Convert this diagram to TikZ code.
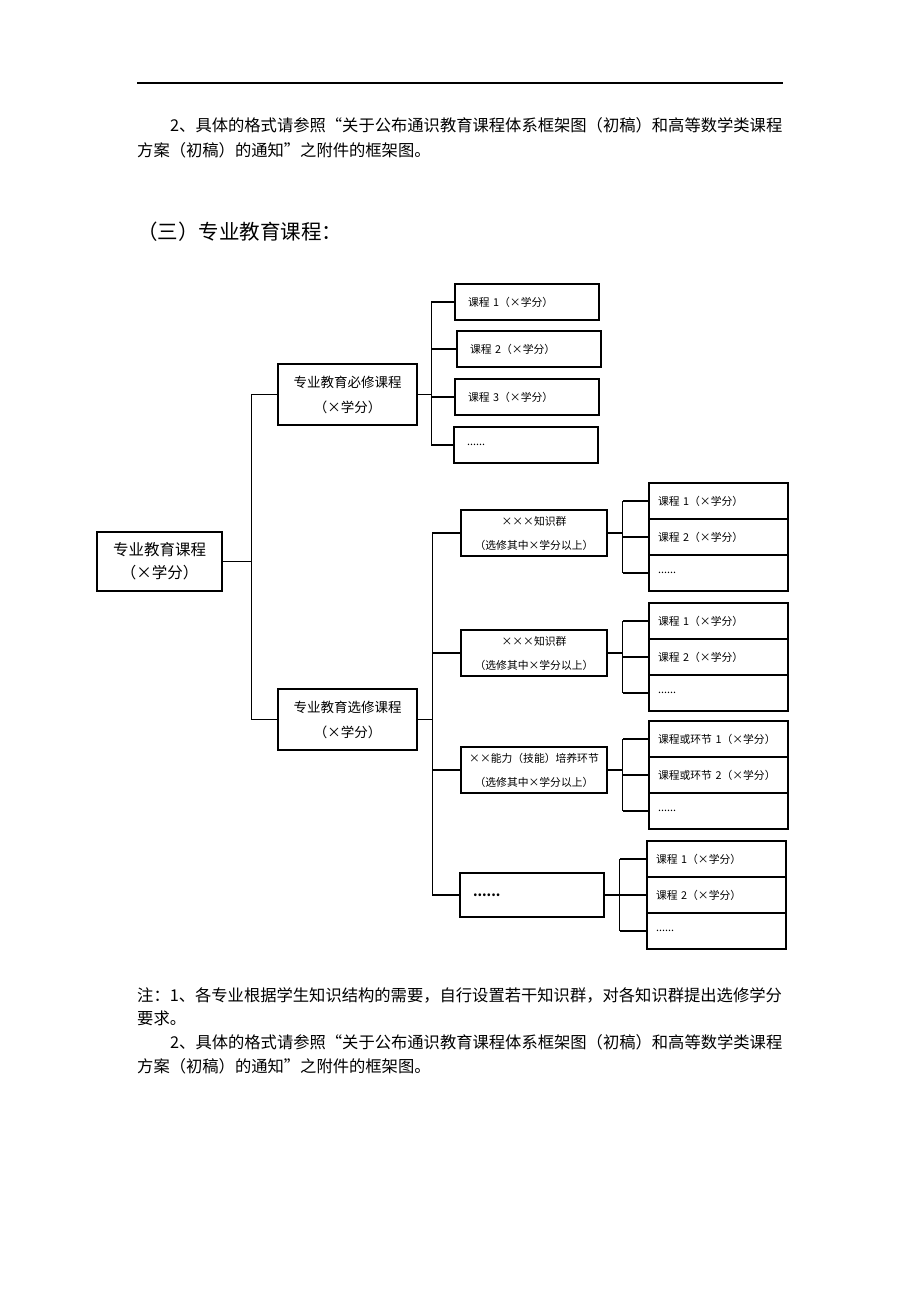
\documentclass[tikz,border=0pt]{standalone}
\usepackage{fontspec}
\setmainfont{Noto Sans CJK SC}
\usetikzlibrary{positioning}

\begin{document}
\begin{tikzpicture}[x=1pt, y=-1pt,
		every node/.style={inner sep=0pt},
		para/.style={anchor=west, font=\fontsize{16.3}{18}\selectfont},
		topbox/.style={draw, line width=2.8pt, minimum width=125, minimum height=59, align=center, font=\fontsize{15.5}{23}\selectfont},
		midbox/.style={draw, line width=2.6pt, minimum width=139, minimum height=61, align=center, font=\fontsize{13.5}{25}\selectfont},
		grpbox/.style={draw, line width=1.6pt, minimum width=146, minimum height=46, align=center, font=\fontsize{10.8}{24}\selectfont},
		leaf/.style={draw, line width=1.3pt, minimum height=36, inner xsep=13, text width=#1, align=left, font=\fontsize{10.8}{13}\selectfont},
		leaf/.default=118,
		subleaf/.style={leaf=121, inner xsep=9},
		link/.style={line width=1.2pt}]
		
		\useasboundingbox (0,0) rectangle (920,1302);
		
		% text above
		\draw[line width=1.2pt] (137,83) -- (783,83);
		\node[para] (p1) at (170,125) {2、具体的格式请参照“关于公布通识教育课程体系框架图（初稿）和高等数学类课程};
		\node[para] (p2) at (137,150) {方案（初稿）的通知”之附件的框架图。};
		\node[para, font=\fontsize{20.5}{24}\selectfont] (head) at (137,232) {（三）专业教育课程：};
		
		% main boxes
		\node[topbox] (root) at (159.5,561.5) {专业教育课程\\（×学分）};
		\node[midbox] (req) at (347.5,394.5) {专业教育必修课程\\（×学分）};
		\node[midbox] (elec) at (347.5,719.5) {专业教育选修课程\\（×学分）};
		
		\draw[link] (root.east) -- ++(28,0) coordinate (rj);
		\draw[link] (rj |- req.west) -- (rj |- elec.west);
		\draw[link] (rj |- req.west) -- (req.west);
		\draw[link] (rj |- elec.west) -- (elec.west);
		
		% required courses
		\node[leaf] (c1) at (527,302) {课程 1（×学分）};
		\node[leaf] (c2) at (529,349) {课程 2（×学分）};
		\node[leaf] (c3) at (527,397) {课程 3（×学分）};
		\node[leaf] (c4) at (526,445) {......};
		
		\draw[link] (req.east) -- ++(13,0) coordinate (qj);
		\draw[link] (qj |- c1.west) -- (qj |- c4.west);
		\foreach \c in {c1,c2,c3,c4}
			\draw[link] (qj |- \c.west) -- (\c.west);
		
		% elective groups
		\node[grpbox] (g1) at (534,533) {×××知识群\\（选修其中×学分以上）};
		\node[grpbox] (g2) at (534,653) {×××知识群\\（选修其中×学分以上）};
		\node[grpbox] (g3) at (534,770) {××能力（技能）培养环节\\（选修其中×学分以上）};
		\node[grpbox, minimum width=144, minimum height=44, align=left, text width=118, inner xsep=13, font=\fontsize{13}{15}\selectfont\bfseries] (g4) at (532,895) {......};
		
		\draw[link] (elec.east) -- ++(14,0) coordinate (ej);
		\draw[link] (ej |- g1.west) -- (ej |- g4.west);
		\foreach \g in {g1,g2,g3,g4}
			\draw[link] (ej |- \g.west) -- (\g.west);
		
		% course lists of the groups
		\foreach \s/\yy/\xx/\ta/\tb in {1/501/718.5/{课程 1（×学分）}/{课程 2（×学分）},
				2/621/718.5/{课程 1（×学分）}/{课程 2（×学分）},
				3/739/718.5/{课程或环节 1（×学分）}/{课程或环节 2（×学分）},
				4/859/716.5/{课程 1（×学分）}/{课程 2（×学分）}}{
			\node[subleaf] (s\s-a) at (\xx,\yy) {\ta};
			\node[subleaf] (s\s-b) at (\xx,\yy+36) {\tb};
			\node[subleaf] (s\s-c) at (\xx,\yy+72) {......};
			\draw[link] (g\s.east) -- ++(15,0) coordinate (gj\s);
			\draw[link] (gj\s |- s\s-a.west) -- (gj\s |- s\s-c.west);
			\foreach \r in {a,b,c}
				\draw[link] (gj\s |- s\s-\r.west) -- (s\s-\r.west);
		}
		
		% notes
		\node[para] (n1) at (137,995) {注：1、各专业根据学生知识结构的需要，自行设置若干知识群，对各知识群提出选修学分};
		\node[para] (n2) at (137,1018) {要求。};
		\node[para] (n3) at (170,1042) {2、具体的格式请参照“关于公布通识教育课程体系框架图（初稿）和高等数学类课程};
		\node[para] (n4) at (137,1066) {方案（初稿）的通知”之附件的框架图。};
		
\end{tikzpicture}
\end{document}
